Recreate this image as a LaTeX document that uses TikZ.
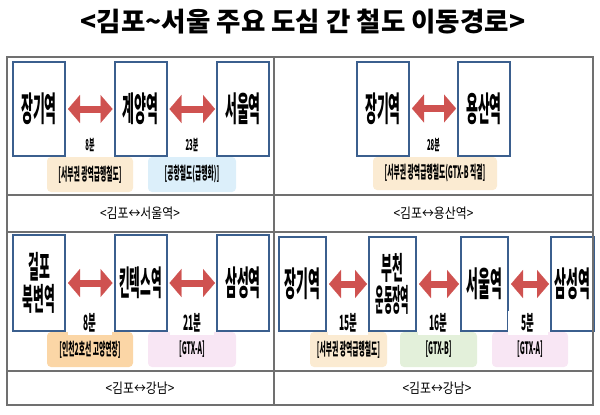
\documentclass[tikz,border=0pt]{standalone}
\usepackage{fontspec}
\newfontfamily\ttlfont{Noto Sans CJK KR}
\newfontfamily\stfont{Noto Sans CJK KR}[FakeStretch=0.38]
\newfontfamily\lbfont{Noto Sans CJK KR}[FakeStretch=0.4]
\newfontfamily\capfont{Noto Sans CJK KR}[FakeStretch=0.85]
\usetikzlibrary{positioning,arrows.meta}

\definecolor{stblue}{HTML}{3B5F8E}
\definecolor{arrred}{HTML}{CF5250}
\definecolor{tagbeige}{HTML}{FBEBD2}
\definecolor{tagblue}{HTML}{DCEFFA}
\definecolor{tagorange}{HTML}{FBD6A6}
\definecolor{taglilac}{HTML}{F8E6F4}
\definecolor{taggreen}{HTML}{E3F0DA}
\definecolor{gridgray}{HTML}{707070}

\tikzset{
  station/.style={draw=stblue, line width=2pt, fill=white, minimum width=52pt,
    minimum height=94pt, inner sep=0pt, align=center,
    font=\stfont\bfseries\fontsize{34}{34}\selectfont},
  twoline/.style={font=\stfont\bfseries\fontsize{31}{32}\selectfont},
  link/.style={arrred, line width=7pt, shorten <=2pt, shorten >=1pt,
    {Triangle[length=12pt,width=28pt,line width=0.1pt]}-{Triangle[length=12pt,width=28pt,line width=0.1pt]}},
  mins/.style={fill=white, inner sep=1pt, font=\lbfont\bfseries\fontsize{15}{15}\selectfont},
  bigmins/.style={fill=white, minimum width=44pt, minimum height=24pt, inner sep=0pt,
    font=\lbfont\bfseries\fontsize{21}{21}\selectfont},
  routetag/.style={rounded corners=4pt, minimum height=35pt, inner sep=0pt,
    font=\lbfont\bfseries\fontsize{17}{17}\selectfont},
  capt/.style={font=\capfont\fontsize{14}{14}\selectfont},
  grid/.style={gridgray, line width=1.2pt}
}

\begin{document}
\begin{tikzpicture}[x=1pt,y=-1pt]
  \useasboundingbox (0,0) rectangle (600,415);

  % title
  \node[font=\ttlfont\bfseries\fontsize{26.5}{26.5}\selectfont] (title) at (303,22)
    {<김포\string~서울 주요 도심 간 철도 이동경로>};

  % route tags
  \node[routetag, fill=tagbeige, minimum width=86pt] (tagA) at (90,174.5) {[서부권 광역급행철도]};
  \node[routetag, fill=tagblue, minimum width=88pt] (tagB) at (192,174.5) {[공항철도(급행화)]};
  \node[routetag, fill=tagbeige, minimum width=124pt, minimum height=33pt] (tagC) at (435,173.5)
    {[서부권 광역급행철도(GTX-B 직결]};
  \node[routetag, fill=tagorange, minimum width=86pt] (tagD) at (90,349.5) {[인천2호선 고양연장]};
  \node[routetag, fill=taglilac, minimum width=88pt] (tagE) at (192,349.5) {[GTX-A]};
  \node[routetag, fill=tagbeige, minimum width=77pt] (tagF) at (348.5,349.5) {[서부권 광역급행철도]};
  \node[routetag, fill=taggreen, minimum width=77pt] (tagG) at (438.5,349.5) {[GTX-B]};
  \node[routetag, fill=taglilac, minimum width=76pt] (tagH) at (530,349.5) {[GTX-A]};

  % stations: 김포-서울역
  \node[station] (jg1) at (39,109) {장기역};
  \node[station] (gy1) at (140.5,109) {계양역};
  \node[station] (sl1) at (243,109) {서울역};
  % stations: 김포-용산역
  \node[station] (jg2) at (383,108.5) {장기역};
  \node[station] (ys2) at (484,108.5) {용산역};
  % stations: 김포-강남 (인천2호선)
  \node[station, twoline, minimum height=96pt] (gp3) at (39,283) {걸포\\북변역};
  \node[station, minimum height=96pt] (kt3) at (140.5,283) {\scalebox{0.9}[1]{킨텍스역}};
  \node[station, minimum height=96pt] (ss3) at (243,283) {삼성역};
  % stations: 김포-강남 (GTX)
  \node[station, minimum width=47pt] (jg4) at (302.5,284) {장기역};
  \node[station, twoline, minimum width=47pt] (bc4) at (392.5,284)
    {부천\\\scalebox{0.78}[1]{운동장역}};
  \node[station, minimum width=47pt] (sl4) at (484.5,284) {서울역};
  \node[station, minimum width=43pt] (ss4) at (572.5,284) {삼성역};

  % table lines
  \draw[grid] (7,57) rectangle (593,405);
  \draw[grid] (274,57) -- (274,405);
  \draw[grid] (7,195) -- (593,195) (7,232) -- (593,232) (7,371) -- (593,371);

  % arrows
  \draw[link] (jg1.east) -- (gy1.west);
  \draw[link] (gy1.east) -- (sl1.west);
  \draw[link] (jg2.east) -- (ys2.west);
  \draw[link] (gp3.east) -- (kt3.west);
  \draw[link] (kt3.east) -- (ss3.west);
  \draw[link] (jg4.east) -- (bc4.west);
  \draw[link] (bc4.east) -- (sl4.west);
  \draw[link] (sl4.east) -- (ss4.west);

  % travel times
  \node[mins] (m1) at (90,145) {8분};
  \node[mins] (m2) at (192,145) {23분};
  \node[mins] (m3) at (433.5,145) {28분};
  \node[bigmins] (m4) at (90,323) {8분};
  \node[bigmins] (m5) at (192,323) {21분};
  \node[bigmins, minimum width=40pt] (m6) at (348,323) {15분};
  \node[bigmins, minimum width=42pt] (m7) at (438.5,323) {16분};
  \node[bigmins, minimum width=40pt] (m8) at (528,323) {5분};

  % captions
  \node[capt] (c1) at (140,213) {<김포↔서울역>};
  \node[capt] (c2) at (433.5,213) {<김포↔용산역>};
  \node[capt] (c3) at (140,388.5) {<김포↔강남>};
  \node[capt] (c4) at (437,388.5) {<김포↔강남>};
\end{tikzpicture}
\end{document}
